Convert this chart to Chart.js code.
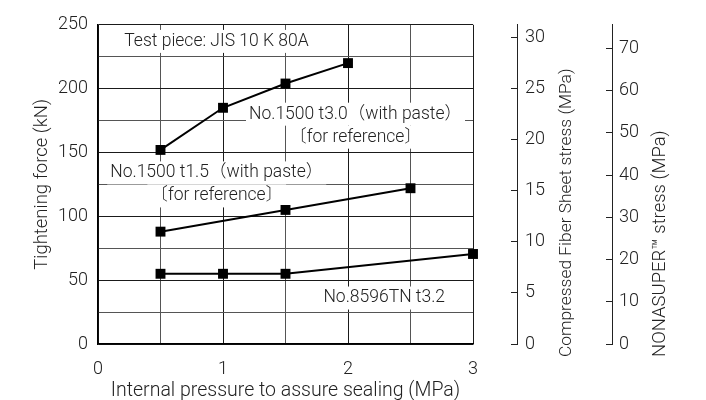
<!DOCTYPE html>
<html>
<head>
<meta charset="utf-8">
<script src="https://cdn.jsdelivr.net/npm/chart.js@4"></script>
<style>
  html, body { margin: 0; padding: 0; background: #fff; }
  #wrap { width: 706px; height: 400px; }
</style>
</head>
<body>
<div id="wrap"><canvas id="chart"></canvas></div>
<script>
// values
const t30Pressure = [0.5, 1, 1.5, 2];
const t30Force = [152, 185, 204, 220];
const t15Pressure = [0.5, 1.5, 2.5];
const t15Force = [88, 105, 122];
const tnPressure = [0.5, 1, 1.5, 3];
const tnForce = [55, 55, 55, 70.5];

// tick labels
const pressureTicks = [0, 1, 2, 3];
const forceTicks = [0, 50, 100, 150, 200, 250];
const fiberTicks = [0, 5, 10, 15, 20, 25, 30];
const nonaTicks = [0, 10, 20, 30, 40, 50, 60, 70];

const FONT = "Roboto, 'Noto Sans CJK JP', sans-serif";
const INK = '#222';

Chart.defaults.font.family = FONT;
Chart.defaults.font.weight = '300';
Chart.defaults.color = INK;

const canvas = document.getElementById('chart');

function points(xs, ys) {
  return xs.map((x, i) => ({ x: x, y: ys[i] }));
}

function series(xs, ys) {
  return {
    data: points(xs, ys),
    borderColor: '#000',
    backgroundColor: '#000',
    borderWidth: 2,
    pointStyle: 'rect',
    pointRadius: 7,
    pointBorderWidth: 0,
    clip: false,
    yAxisID: 'y'
  };
}

// text boxes on the plot, placed in data units
const notes = [
  { x: 0.21, y: 237, align: 'left', lines: ['Test piece: JIS 10 K 80A'] },
  { x: 2.06, y: 180, align: 'center', lines: ['No.1500 t3.0（with paste）', '〔for reference〕'] },
  { x: 0.95, y: 134, align: 'center', lines: ['No.1500 t1.5（with paste）', '〔for reference〕'] },
  { x: 2.29, y: 36, align: 'center', lines: ['No.8596TN t3.2'] }
];

// titles of the two stress axes, reading upwards
const sideTitles = [
  { scale: 'yF', text: 'Compressed Fiber Sheet stress (MPa)', dx: 50, size: 17.4 },
  { scale: 'yN', text: 'NONASUPER™ stress (MPa)', dx: 48, size: 18.5 }
];

const notesPlugin = {
  id: 'notes',
  beforeDatasetsDraw(chart) {
    const ctx = chart.ctx;
    const xs = chart.scales.x, ys = chart.scales.y;
    ctx.save();
    ctx.font = '300 17.5px ' + FONT;
    ctx.textBaseline = 'middle';
    notes.forEach(n => {
      const px = xs.getPixelForValue(n.x);
      const py = ys.getPixelForValue(n.y);
      n.lines.forEach((line, i) => {
        const w = ctx.measureText(line).width;
        const cy = py + i * 23;
        const left = n.align === 'left' ? px : px - w / 2;
        ctx.fillStyle = '#fff';
        ctx.fillRect(left - 3, cy - 11.5, w + 6, 23);
        ctx.fillStyle = INK;
        ctx.textAlign = 'left';
        ctx.fillText(line, left, cy);
      });
    });
    ctx.restore();
  },
  afterDraw(chart) {
    const ctx = chart.ctx;
    ctx.save();
    ctx.fillStyle = INK;
    ctx.textAlign = 'left';
    ctx.textBaseline = 'middle';
    sideTitles.forEach(t => {
      const s = chart.scales[t.scale];
      ctx.save();
      ctx.font = '300 ' + t.size + 'px ' + FONT;
      ctx.translate(s.left + t.dx, chart.chartArea.bottom + 13);
      ctx.rotate(-Math.PI / 2);
      ctx.fillText(t.text, 0, 0);
      ctx.restore();
    });
    ctx.restore();
  }
};

function gridColour(major) {
  return ctx => (major(ctx.tick.value) ? '#1a1a1a' : '#555');
}

new Chart(canvas, {
  type: 'line',
  data: {
    datasets: [
      series(t30Pressure, t30Force),
      series(t15Pressure, t15Force),
      series(tnPressure, tnForce)
    ]
  },
  options: {
    responsive: true,
    maintainAspectRatio: false,
    animation: false,
    layout: { padding: { top: 19, left: 0, right: 0, bottom: 0 } },
    plugins: { legend: { display: false }, tooltip: { enabled: false } },
    scales: {
      x: {
        type: 'linear',
        min: 0,
        max: 3,
        afterFit: s => { s.height = 56; },
        grid: { color: gridColour(v => Number.isInteger(v)), drawTicks: false },
        border: { color: '#000', width: 1.5 },
        ticks: {
          stepSize: 0.5,
          autoSkip: false,
          maxRotation: 0,
          padding: 15,
          font: { size: 18 },
          callback: v => (pressureTicks.includes(v) ? v : '')
        },
        title: {
          display: true,
          text: 'Internal pressure to assure sealing (MPa)',
          font: { size: 19.5 },
          padding: { top: 0, bottom: -3 }
        }
      },
      y: {
        position: 'left',
        min: 0,
        max: 250,
        afterFit: s => { s.width = 98; },
        grid: { color: gridColour(v => v % 50 === 0), drawTicks: false },
        border: { color: '#000', width: 1.5 },
        ticks: {
          stepSize: 25,
          autoSkip: false,
          padding: 10,
          font: { size: 18 },
          callback: v => (forceTicks.includes(v) ? v : '')
        },
        title: {
          display: true,
          text: 'Tightening force (kN)',
          font: { size: 18.5 },
          padding: { top: 31, bottom: 0 }
        }
      },
      gap: {
        type: 'linear',
        position: 'right',
        weight: 0,
        afterFit: s => { s.width = 44; },
        grid: { display: false },
        border: { display: false },
        ticks: { display: false }
      },
      yF: {
        type: 'linear',
        position: 'right',
        weight: 1,
        min: 0,
        max: 31.25,
        afterFit: s => { s.width = 95; },
        afterBuildTicks: s => { s.ticks = fiberTicks.map(v => ({ value: v })); },
        grid: { drawOnChartArea: false, drawTicks: true, tickLength: -6, color: INK },
        border: { color: INK, width: 1 },
        ticks: { padding: 14, font: { size: 18 } }
      },
      yN: {
        type: 'linear',
        position: 'right',
        weight: 2,
        min: 0,
        max: 75.6,
        afterFit: s => { s.width = 94; },
        afterBuildTicks: s => { s.ticks = nonaTicks.map(v => ({ value: v })); },
        grid: { drawOnChartArea: false, drawTicks: true, tickLength: -6, color: INK },
        border: { color: INK, width: 1 },
        ticks: { padding: 13, font: { size: 18 } }
      }
    }
  },
  plugins: [notesPlugin]
});
</script>
</body>
</html>
